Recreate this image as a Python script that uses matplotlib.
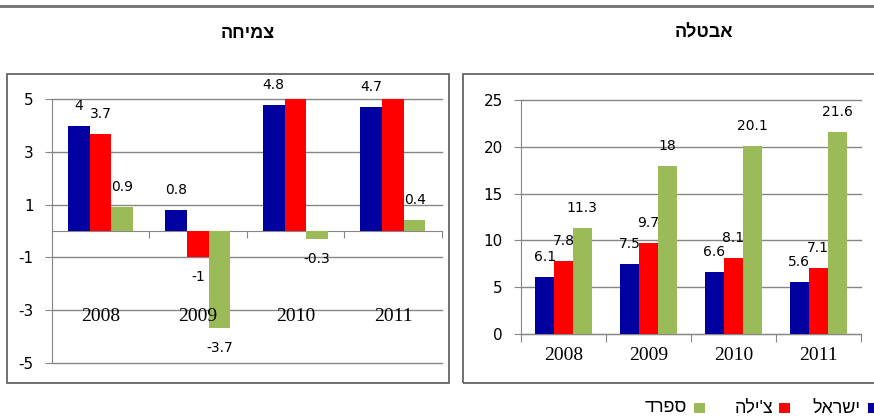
import numpy as np
import matplotlib
matplotlib.use("Agg")
import matplotlib.pyplot as plt
from matplotlib.patches import Rectangle
from matplotlib.lines import Line2D
import matplotlib.transforms as mtransforms

plt.rcParams["axes.unicode_minus"] = False

# ---------------- data ----------------
years = ["2008", "2009", "2010", "2011"]
series_names = ["ישראל", "צ'ילה", "ספרד"]
series_colors = ["#0000A0", "#FF0000", "#9BBB59"]

growth_israel = [4, 0.8, 4.8, 4.7]
growth_chile = [3.7, -1, 5.2, 5.9]
growth_spain = [0.9, -3.7, -0.3, 0.4]

unemp_israel = [6.1, 7.5, 6.6, 5.6]
unemp_chile = [7.8, 9.7, 8.1, 7.1]
unemp_spain = [11.3, 18, 20.1, 21.6]

title_growth = "צמיחה"
title_unemp = "אבטלה"

growth_ticks = [-5, -3, -1, 1, 3, 5]
unemp_ticks = [0, 5, 10, 15, 20, 25]

# ---------------- helpers ----------------
W, H = 874, 417


def rtl(s):
    # matplotlib has no bidi support: reverse Hebrew for visual order
    return s[::-1]


def fx(x):
    return x / W


def fy(y):
    return 1 - y / H


HEB = ["Liberation Sans", "DejaVu Sans"]
GRID = "#868686"

fig = plt.figure(figsize=(W / 100, H / 100), dpi=100)
fig.patch.set_facecolor("white")

axL = fig.add_axes([fx(51.7), fy(362.7), 390 / W, 263.4 / H])
axR = fig.add_axes([fx(521), fy(334), 339.7 / W, 234 / H])

bw = 0.222
x = np.arange(len(years))


def draw(ax, data, ylim, yticks, year_y):
    for i, (vals, col) in enumerate(zip(data, series_colors)):
        pos = x + (i - 1) * bw
        ax.bar(pos, vals, bw, color=col, zorder=3, linewidth=0)
        for p, v in zip(pos, vals):
            if ylim[0] <= v <= ylim[1]:
                off = 14.4 if v >= 0 else -14.4
                ax.annotate(f"{v:g}", (p, v), xytext=(0, off),
                            textcoords="offset points", ha="center",
                            va="center", fontsize=10, color="#000000",
                            family="DejaVu Sans", annotation_clip=False)
    ax.set_xlim(-0.5, len(years) - 0.5)
    ax.set_ylim(*ylim)
    ax.set_yticks(yticks)
    ax.yaxis.grid(True, color=GRID, lw=1, zorder=0)
    ax.set_axisbelow(True)
    for gl in ax.get_ygridlines():
        gl.set_clip_on(False)
    for s in ["top", "right"]:
        ax.spines[s].set_visible(False)
    ax.spines["left"].set_color(GRID)
    ax.spines["bottom"].set_color(GRID)
    ax.spines["bottom"].set_position(("data", 0))
    ax.spines["bottom"].set_zorder(2)
    ax.tick_params(axis="y", direction="out", length=5, color=GRID,
                   labelsize=11, pad=8, labelcolor="black")
    ax.set_xticks(np.arange(-0.5, len(years), 1.0))
    ax.set_xticklabels([])
    ax.tick_params(axis="x", direction="out", length=5, color=GRID)
    trans = mtransforms.blended_transform_factory(ax.transData, ax.transAxes)
    for i, yr in enumerate(years):
        ax.text(i, year_y, yr, transform=trans, ha="center", va="center",
                fontsize=14, family="Liberation Serif", color="black")


draw(axL, [growth_israel, growth_chile, growth_spain], (-5, 5),
     growth_ticks, (362.7 - 316.7) / 263.4)
draw(axR, [unemp_israel, unemp_chile, unemp_spain], (0, 25),
     unemp_ticks, (334 - 356) / 234)
axR.tick_params(axis="x", length=6)

# boxes around the panels
fig.add_artist(Rectangle((fx(6.7), fy(383)), (449.3 - 6.7) / W, (383 - 74) / H,
                         transform=fig.transFigure, fill=False,
                         ec="#595959", lw=1.2))
fig.add_artist(Rectangle((fx(462.7), fy(383)), (890 - 462.7) / W, (383 - 74) / H,
                         transform=fig.transFigure, fill=False,
                         ec="#595959", lw=1.2, clip_on=False))

# top rule
fig.add_artist(Line2D([0, 1], [fy(6), fy(6)], transform=fig.transFigure,
                      color="#707070", lw=2))

# titles
fig.text(fx(247.5), fy(33), rtl(title_growth), ha="center", va="center",
         fontsize=13, weight="bold", family=HEB)
fig.text(fx(704), fy(33), rtl(title_unemp), ha="center", va="center",
         fontsize=13, weight="bold", family=HEB)

# legend (right-to-left: square to the right of its label)
sq_left = [868, 779, 694]
txt_right = [860, 773, 687]
for name, col, sl, tr in zip(series_names, series_colors, sq_left, txt_right):
    fig.add_artist(Rectangle((fx(sl), fy(413)), 11 / W, 10 / H,
                             transform=fig.transFigure, fc=col, ec="none"))
    fig.text(fx(tr), fy(408), rtl(name), ha="right", va="center",
             fontsize=13, family=HEB)

fig.savefig("out.png", dpi=100)
